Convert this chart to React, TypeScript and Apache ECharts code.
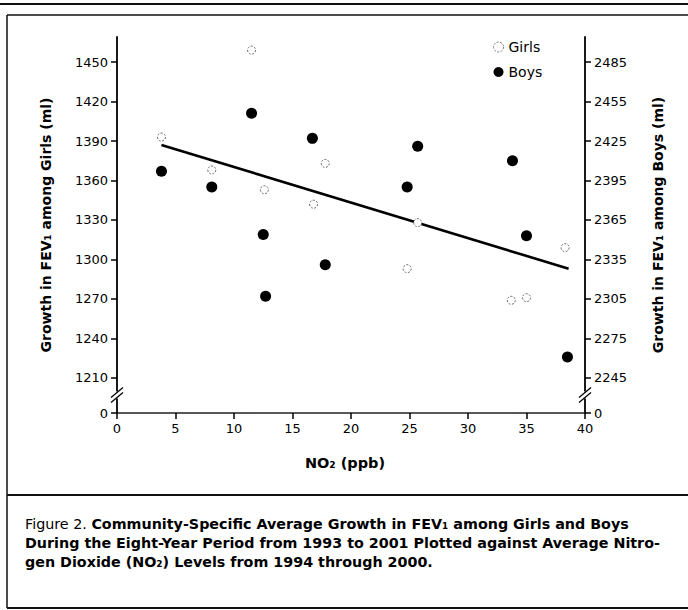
import React, { useEffect, useRef } from "react";
import * as echarts from "echarts";

// ---- data ----
const girlsNO2 = [3.8, 8.1, 11.5, 12.6, 16.8, 17.8, 24.8, 25.7, 33.7, 35.0, 38.3];
const girlsFEV1 = [1393, 1368, 1459, 1353, 1342, 1373, 1293, 1328, 1269, 1271, 1309];
const boysNO2 = [3.8, 8.1, 11.5, 12.5, 12.7, 16.7, 17.8, 24.8, 25.7, 33.8, 35.0, 38.5];
const boysFEV1 = [2402, 2390, 2446, 2354, 2307, 2427, 2331, 2390, 2421, 2410, 2353, 2261];
const fitNO2 = [3.8, 38.6];
const fitGirlsFEV1 = [1387, 1293];
const girlsTicks = [1210, 1240, 1270, 1300, 1330, 1360, 1390, 1420, 1450];
const boysTicks = [2245, 2275, 2305, 2335, 2365, 2395, 2425, 2455, 2485];
const xTicks = [0, 5, 10, 15, 20, 25, 30, 35, 40];
const breakLabel = "0";
const boysOffset = 1035; // boys axis = girls axis + offset
const girlsMin = 1183.4;
const girlsMax = 1469;

const FONT = "'DejaVu Sans', 'Noto Sans', sans-serif";

export default function App() {
  const ref = useRef<HTMLDivElement>(null);

  useEffect(() => {
    if (!ref.current) return;
    const chart = echarts.init(ref.current, undefined, { renderer: "svg" });
    const boysMin = girlsMin + boysOffset;
    const boysMax = girlsMax + boysOffset;

    const yAxisCommon = {
      type: "value",
      splitLine: { show: false },
      axisLine: { show: true, onZero: false, lineStyle: { color: "#000", width: 1.8 } },
      axisTick: { show: true, length: 6, lineStyle: { color: "#000", width: 1.5 } },
      nameLocation: "middle",
      nameTextStyle: { fontFamily: FONT, fontSize: 14, fontWeight: "bold", color: "#000" },
    };

    chart.setOption({
      animation: false,
      textStyle: { fontFamily: FONT },
      grid: { left: 117, right: 103, top: 37, bottom: 197, containLabel: false },
      legend: {
        data: [
          { name: "Girls", itemStyle: { color: "#fff", borderColor: "#777", borderWidth: 1, borderType: [2, 1.5] } },
          { name: "Boys", itemStyle: { color: "#000" } },
        ],
        orient: "vertical",
        left: 493,
        top: 40,
        padding: 0,
        itemGap: 11,
        itemWidth: 10,
        itemHeight: 10,
        textStyle: { fontFamily: FONT, fontSize: 14, color: "#000" },
        selectedMode: false,
      },
      xAxis: {
        type: "value",
        min: xTicks[0],
        max: xTicks[xTicks.length - 1],
        interval: 5,
        splitLine: { show: false },
        axisLine: { show: true, onZero: false, lineStyle: { color: "#222", width: 1.5 } },
        axisTick: { show: true, length: 6, lineStyle: { color: "#000", width: 1.5 } },
        axisLabel: { fontFamily: FONT, fontSize: 13, color: "#000", margin: 9 },
        name: "NO₂ (ppb)",
        nameLocation: "middle",
        nameGap: 42,
        nameTextStyle: { fontFamily: FONT, fontSize: 14.5, fontWeight: "bold", color: "#000", padding: [0, 12, 0, 0] },
      },
      yAxis: [
        {
          ...yAxisCommon,
          position: "left",
          min: girlsMin,
          max: girlsMax,
          axisTick: { ...yAxisCommon.axisTick, customValues: [girlsMin, ...girlsTicks] },
          axisLabel: {
            fontFamily: FONT,
            fontSize: 13,
            color: "#000",
            margin: 9,
            customValues: [girlsMin, ...girlsTicks],
            formatter: (v: number) => (Math.abs(v - girlsMin) < 0.01 ? breakLabel : String(v)),
          },
          name: "Growth in FEV₁ among Girls (ml)",
          nameGap: 64,
        },
        {
          ...yAxisCommon,
          position: "right",
          min: boysMin,
          max: boysMax,
          axisTick: { ...yAxisCommon.axisTick, customValues: [boysMin, ...boysTicks] },
          axisLabel: {
            fontFamily: FONT,
            fontSize: 13,
            color: "#000",
            margin: 9,
            customValues: [boysMin, ...boysTicks],
            formatter: (v: number) => (Math.abs(v - boysMin) < 0.01 ? breakLabel : String(v)),
          },
          name: "Growth in FEV₁ among Boys (ml)",
          nameGap: 66,
          nameRotate: 90,
        },
      ],
      series: [
        {
          name: "Girls",
          type: "scatter",
          yAxisIndex: 0,
          symbol: "circle",
          symbolSize: 8,
          itemStyle: { color: "#fff", borderColor: "#666", borderWidth: 1, borderType: [2, 1.5], opacity: 1 },
          data: girlsNO2.map((x, i) => [x, girlsFEV1[i]]),
          z: 3,
        },
        {
          name: "Boys",
          type: "scatter",
          yAxisIndex: 1,
          symbol: "circle",
          symbolSize: 11,
          itemStyle: { color: "#000", opacity: 1 },
          data: boysNO2.map((x, i) => [x, boysFEV1[i]]),
          z: 4,
        },
        {
          name: "Fit",
          type: "line",
          yAxisIndex: 0,
          symbol: "none",
          silent: true,
          lineStyle: { color: "#000", width: 2.6 },
          data: fitNO2.map((x, i) => [x, fitGirlsFEV1[i]]),
          z: 2,
        },
      ],
    });

    // decorations: axis breaks, frame and caption
    const xl = chart.convertToPixel({ xAxisIndex: 0 }, xTicks[0]) as number;
    const xr = chart.convertToPixel({ xAxisIndex: 0 }, xTicks[xTicks.length - 1]) as number;
    const yb = chart.convertToPixel({ yAxisIndex: 0 }, (girlsMin + girlsTicks[0]) / 2) as number;

    const breakMark = (cx: number) => [
      { type: "rect", shape: { x: cx - 4, y: yb - 4, width: 8, height: 7 }, style: { fill: "#fff" }, z: 100 },
      { type: "line", shape: { x1: cx - 6, y1: yb + 2, x2: cx + 6, y2: yb - 8 }, style: { stroke: "#000", lineWidth: 1.3 }, z: 101 },
      { type: "line", shape: { x1: cx - 6, y1: yb + 7, x2: cx + 6, y2: yb - 3 }, style: { stroke: "#000", lineWidth: 1.3 }, z: 101 },
    ];

    const CAP = 14.3;
    const captionRich = {
      n: { fontFamily: FONT, fontSize: CAP, fontWeight: "normal", fill: "#000", lineHeight: 19 },
      b: { fontFamily: FONT, fontSize: CAP, fontWeight: "bold", fill: "#000", lineHeight: 19 },
    };

    chart.setOption({
      graphic: [
        ...breakMark(xl),
        ...breakMark(xr),
        { type: "line", shape: { x1: 0, y1: 4, x2: 688, y2: 4 }, style: { stroke: "#111", lineWidth: 2 } },
        { type: "line", shape: { x1: 7, y1: 15, x2: 688, y2: 15 }, style: { stroke: "#111", lineWidth: 1.5 } },
        { type: "line", shape: { x1: 7, y1: 15, x2: 7, y2: 608 }, style: { stroke: "#111", lineWidth: 1.5 } },
        { type: "line", shape: { x1: 7, y1: 495, x2: 688, y2: 495 }, style: { stroke: "#111", lineWidth: 1.8 } },
        { type: "line", shape: { x1: 7, y1: 608, x2: 688, y2: 608 }, style: { stroke: "#111", lineWidth: 2 } },
        {
          type: "text",
          x: 25,
          y: 514,
          style: {
            text:
              "{n|Figure 2. }{b|Community-Specific Average Growth in FEV₁ among Girls and Boys}\n" +
              "{b|During the Eight-Year Period from 1993 to 2001 Plotted against Average Nitro-}\n" +
              "{b|gen Dioxide (NO₂) Levels from 1994 through 2000.}",
            rich: captionRich,
            fontFamily: FONT,
            fontSize: CAP,
            lineHeight: 19,
            fill: "#000",
            verticalAlign: "top",
            align: "left",
          },
        },
      ],
    });

    return () => chart.dispose();
  }, []);

  return <div ref={ref} style={{ position: "absolute", left: 0, top: 0, width: 688, height: 610 }} />;
}
